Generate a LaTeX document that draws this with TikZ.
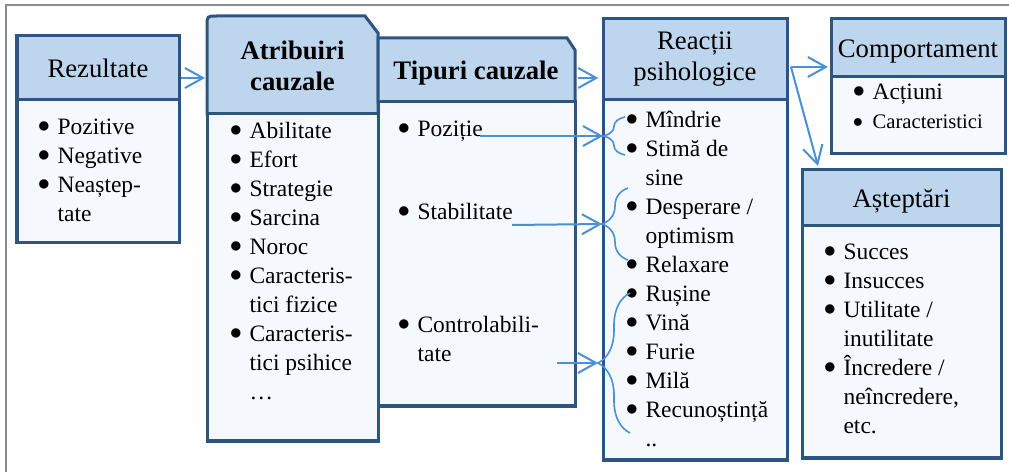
\documentclass[tikz,border=0pt]{standalone}
\usepackage{fontspec}
\setmainfont{Liberation Serif}
\usetikzlibrary{arrows.meta,decorations.pathreplacing,positioning}

\definecolor{hdrfill}{RGB}{189,214,238}
\definecolor{bodyfill}{RGB}{245,249,253}
\definecolor{boxline}{RGB}{44,85,130}
\definecolor{lnkblue}{RGB}{74,144,210}
\definecolor{framegray}{RGB}{140,140,140}

\newcommand{\pxu}{0.025cm}
\newcommand{\bl}{\makebox[13pt][l]{\hspace*{-1pt}\raisebox{0.08em}{$\bullet$}}}
\newcommand{\ind}{\hspace*{13pt}}

\begin{document}
\begin{tikzpicture}[x=0.025cm,y=-0.025cm,
	hdr/.style={draw=boxline, fill=hdrfill, line width=0.075cm, inner sep=0pt, font=\fontsize{19}{22}\selectfont, align=center},
	hdrone/.style={text height=14.2pt, text depth=0pt},
	bdy/.style={draw=boxline, fill=bodyfill, line width=0.075cm, inner sep=0pt},
	lst/.style={anchor=north west, inner sep=0pt, align=left, font=\fontsize{16.7}{20.6}\selectfont},
	lnk/.style={draw=lnkblue, line width=0.05cm, -{Straight Barb[length=0.45cm,width=0.5cm]}},
	brc/.style={draw=lnkblue, line width=0.04cm, decorate, decoration={brace, amplitude=#1}}]
		\useasboundingbox (0,0) rectangle (1009,472);
		% frame
		\draw[framegray, line width=0.05cm] (6,472) -- (6,5) -- (1009,5);

		% Rezultate
		\node[hdr, hdrone, minimum width=162*\pxu, minimum height=64*\pxu] (rezh) at (98,68) {Rezultate};
		\node[bdy, minimum width=162*\pxu, minimum height=143*\pxu] (rezb) at (98,171.5) {};
		\node[lst] (rezl) at (39,119) {\bl Pozitive\\\bl Negative\\\bl Neaștep-\\\ind tate};

		% Atribuiri cauzale
		\draw[boxline, fill=hdrfill, line width=0.075cm] (207,114) -- (207,26) .. controls (207,16) .. (217,16) -- (365,16) -- (378,33) -- (378,114) -- cycle;
		\draw[boxline, fill=bodyfill, line width=0.075cm] (207,114) rectangle (378,441);
		\node[font=\fontsize{19}{22}\selectfont\bfseries, align=center, inner sep=0pt] (atrh) at (292.5,65.5) {Atribuiri\\cauzale};
		\node[lst] (atrl) at (231,122) {\bl Abilitate\\\bl Efort\\\bl Strategie\\\bl Sarcina\\\bl Noroc\\\bl Caracteris-\\\ind tici fizice\\\bl Caracteris-\\\ind tici psihice\\\ind\ldots};

		% Tipuri cauzale
		\draw[boxline, fill=hdrfill, line width=0.075cm] (378,102) -- (378,38) -- (567,38) -- (575,50) -- (575,102) -- cycle;
		\draw[boxline, fill=bodyfill, line width=0.075cm] (378,102) rectangle (575,406);
		\node[font=\fontsize{19}{22}\selectfont\bfseries, hdrone, inner sep=0pt] (tiph) at (476,70) {Tipuri cauzale};
		\node[lst] (tipl) at (399,121) {\bl Poziție\\[38pt]\bl Stabilitate\\[60pt]\bl Controlabili-\\\ind tate};

		% Reactii psihologice
		\node[hdr, minimum width=184*\pxu, minimum height=81*\pxu] (reach) at (695,59.5) {Reacții\\psihologice};
		\node[bdy, minimum width=184*\pxu, minimum height=360*\pxu] (reacb) at (695,280) {};
		\node[lst] (reacl) at (627,111) {\bl Mîndrie\\\bl Stimă de\\\ind sine\\\bl Desperare /\\\ind optimism\\\bl Relaxare\\\bl Rușine\\\bl Vină\\\bl Furie\\\bl Milă\\\bl Recunoștință\\\ind ..};

		% Comportament
		\node[hdr, hdrone, minimum width=174*\pxu, minimum height=58*\pxu] (comph) at (918,48) {Comportament};
		\node[bdy, minimum width=174*\pxu, minimum height=77*\pxu] (compb) at (918,115.5) {};
		\node[lst] (compl) at (854,84) {\bl Acțiuni\\{\fontsize{14.7}{17}\selectfont\bl Caracteristici}};

		% Asteptari
		\node[hdr, hdrone, minimum width=199*\pxu, minimum height=56*\pxu] (asth) at (901.5,198) {Așteptări};
		\node[bdy, minimum width=199*\pxu, minimum height=232*\pxu] (astb) at (901.5,342) {};
		\node[lst] (astl) at (825,244) {\bl Succes\\\bl Insucces\\\bl Utilitate /\\\ind inutilitate\\\bl Încredere /\\\ind neîncredere,\\\ind etc.};

		% braces
		\coordinate (b1top) at (625,117);
		\coordinate (b1bot) at (625,155);
		\coordinate (b1tip) at (603,136);
		\coordinate (b2top) at (628,188);
		\coordinate (b2bot) at (628,260);
		\coordinate (b2tip) at (602,224);
		\coordinate (b3top) at (630,293);
		\coordinate (b3bot) at (630,433);
		\coordinate (b3tip) at (598,363);
		\draw[brc=0.55cm] (b1bot) -- (b1top);
		\draw[brc=0.65cm] (b2bot) -- (b2top);
		\draw[brc=0.8cm] (b3bot) -- (b3top);

		% arrows
		\coordinate (pozout) at (480,136);
		\coordinate (stabout) at (512,225);
		\coordinate (ctrlout) at (557,363);
		\coordinate (atrin) at (207,78);
		\coordinate (tipout) at (575,78);
		\coordinate (reacout) at (791,67);
		\coordinate (astin) at (818,166);
		\draw[lnk] (pozout) -- (b1tip);
		\draw[lnk] (stabout) -- (b2tip);
		\draw[lnk] (ctrlout) -- (b3tip);
		\draw[lnk, shorten >=0.05cm] (rezh.east |- atrin) -- (atrin);
		\draw[lnk, shorten <=0.08cm, shorten >=0.08cm] (tipout) -- (reach.west |- tipout);
		\draw[lnk, shorten >=0.04cm] (reacout) -- (comph.west |- reacout);
		\draw[lnk] (reacout) -- (astin);
	\end{tikzpicture}
\end{document}
